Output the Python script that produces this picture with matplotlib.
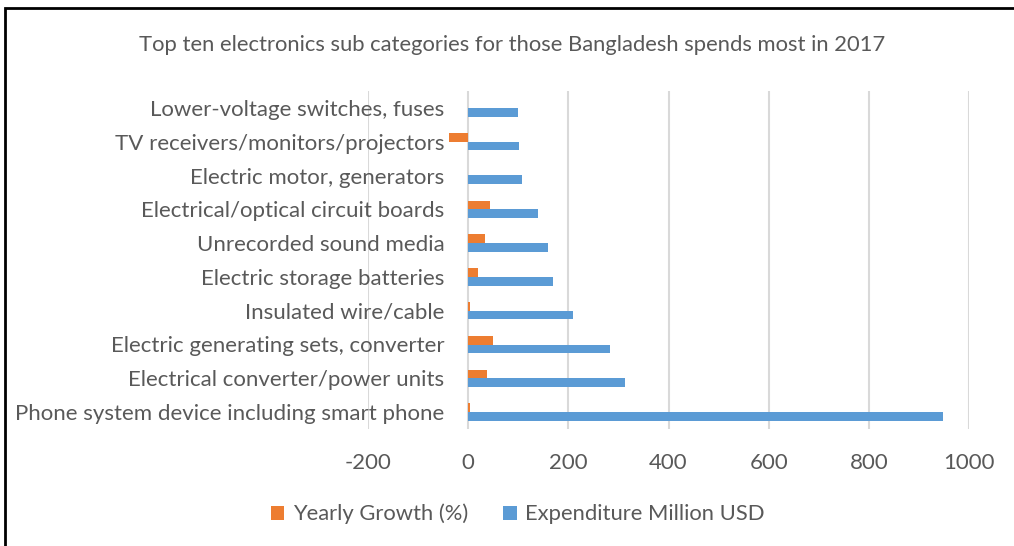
import numpy as np
import matplotlib.pyplot as plt
import matplotlib

categories = [
    "Phone system device including smart phone",
    "Electrical converter/power units",
    "Electric generating sets, converter",
    "Insulated wire/cable",
    "Electric storage batteries",
    "Unrecorded sound media",
    "Electrical/optical circuit boards",
    "Electric motor, generators",
    "TV receivers/monitors/projectors",
    "Lower-voltage switches, fuses",
]
expenditure = [948, 314, 283, 209, 169, 160, 140, 108, 101, 99]
growth = [3, 37, 49, 3, 19, 33, 43, 0, -38, 0]
xticks = [-200, 0, 200, 400, 600, 800, 1000]

plt.rcParams['font.family'] = ['Lato', 'DejaVu Sans']
grey = '#595959'

fig = plt.figure(figsize=(10.14, 5.46), dpi=100)
ax = fig.add_axes([368 / 1014, 1 - 429 / 546, 601 / 1014, 338 / 546])

y = np.arange(len(categories))
h = 0.257
ax.barh(y + h / 2, growth, height=h, color='#ED7D31', label='Yearly Growth (%)', zorder=3)
ax.barh(y - h / 2, expenditure, height=h, color='#5B9BD5', label='Expenditure Million USD', zorder=3)

ax.spines['left'].set_position(('data', 0))
for s in ax.spines.values():
    s.set_visible(False)
ax.set_xlim(-200, 1000)
ax.set_ylim(-0.5, len(categories) - 0.5)
ax.set_xticks(xticks)
ax.set_xticklabels([str(v) for v in xticks], fontsize=16, color=grey)
ax.set_yticks(y)
ax.set_yticklabels(categories, fontsize=16, color=grey)
ax.tick_params(axis='x', length=0, pad=17)
ax.tick_params(axis='y', length=0, pad=17)
ax.grid(axis='x', color='#D9D9D9', linewidth=1.5, zorder=0)

fig.suptitle("Top ten electronics sub categories for those Bangladesh spends most in 2017",
             x=512 / 1014, y=1 - 45 / 546, va='center', fontsize=15.8, color=grey)

leg = fig.legend(loc='center', bbox_to_anchor=(518 / 1014, 1 - 514 / 546), ncol=2, frameon=False,
                 fontsize=15.8, handlelength=0.6, handleheight=0.6, columnspacing=1.6, handletextpad=0.4)
for t in leg.get_texts():
    t.set_color(grey)

# outer border of the chart box
fig.add_artist(matplotlib.patches.Rectangle((5 / 1014, -0.1), 1.2, 1 - 8 / 546 + 0.1,
                                            transform=fig.transFigure, fill=False,
                                            edgecolor='black', linewidth=2))

plt.savefig("out.png", dpi=100)
plt.close()
